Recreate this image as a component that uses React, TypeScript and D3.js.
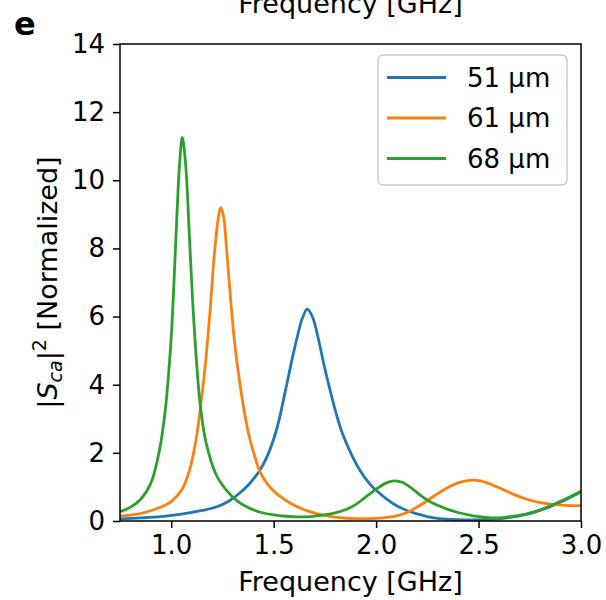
import React, { useRef, useEffect } from 'react';
import * as d3 from 'd3';

// values, [frequency GHz, |S_ca|^2 normalized]
const curve51: [number, number][] = [
    [0.75, 0.06], [0.85, 0.09], [0.95, 0.13], [1.05, 0.2], [1.15, 0.31], [1.22, 0.41],
    [1.28, 0.58], [1.33, 0.8], [1.38, 1.08], [1.43, 1.47], [1.47, 1.92], [1.515, 2.7],
    [1.56, 3.9], [1.59, 4.75], [1.615, 5.4], [1.64, 5.95], [1.664, 6.22], [1.69, 5.98],
    [1.718, 5.35], [1.745, 4.6], [1.775, 3.85], [1.81, 3.05], [1.84, 2.5], [1.88, 1.95],
    [1.92, 1.5], [1.97, 1.08], [2.0, 0.9], [2.05, 0.65], [2.1, 0.45], [2.15, 0.31],
    [2.2, 0.21], [2.25, 0.13], [2.3, 0.08], [2.4, 0.04], [2.5, 0.03], [2.56, 0.05],
    [2.62, 0.08], [2.68, 0.13], [2.74, 0.2], [2.8, 0.31], [2.86, 0.45], [2.92, 0.61],
    [3.0, 0.85],
];

const curve61: [number, number][] = [
    [0.75, 0.14], [0.8, 0.17], [0.85, 0.22], [0.9, 0.3], [0.95, 0.41], [1.0, 0.57],
    [1.05, 0.9], [1.09, 1.5], [1.12, 2.35], [1.14, 3.2], [1.165, 4.5], [1.19, 6.2],
    [1.21, 7.8], [1.23, 8.9], [1.241, 9.2], [1.255, 8.95], [1.27, 8.0], [1.29, 6.5],
    [1.31, 5.2], [1.336, 4.0], [1.36, 3.1], [1.384, 2.4], [1.41, 1.85], [1.433, 1.45],
    [1.47, 1.08], [1.5, 0.88], [1.55, 0.64], [1.6, 0.46], [1.65, 0.33], [1.7, 0.23],
    [1.76, 0.15], [1.82, 0.1], [1.9, 0.07], [1.97, 0.07], [2.03, 0.09], [2.1, 0.15],
    [2.15, 0.25], [2.2, 0.41], [2.25, 0.6], [2.3, 0.8], [2.35, 0.98], [2.4, 1.12],
    [2.44, 1.18], [2.47, 1.2], [2.51, 1.18], [2.56, 1.08], [2.62, 0.92], [2.68, 0.76],
    [2.74, 0.63], [2.8, 0.54], [2.86, 0.49], [2.92, 0.46], [3.0, 0.45],
];

const curve68: [number, number][] = [
    [0.75, 0.27], [0.8, 0.4], [0.85, 0.63], [0.9, 1.1], [0.94, 2.0], [0.97, 3.2],
    [1.0, 5.4], [1.02, 7.9], [1.04, 10.4], [1.054, 11.26], [1.07, 10.5], [1.09, 8.2],
    [1.11, 5.9], [1.14, 3.5], [1.17, 2.3], [1.22, 1.35], [1.27, 0.9], [1.32, 0.6],
    [1.38, 0.38], [1.44, 0.25], [1.5, 0.18], [1.56, 0.14], [1.62, 0.12], [1.68, 0.13],
    [1.74, 0.17], [1.8, 0.24], [1.85, 0.33], [1.9, 0.48], [1.95, 0.71], [2.0, 0.93],
    [2.05, 1.12], [2.09, 1.18], [2.13, 1.13], [2.18, 0.93], [2.22, 0.74], [2.26, 0.58],
    [2.3, 0.46], [2.35, 0.34], [2.4, 0.25], [2.45, 0.18], [2.5, 0.13], [2.56, 0.09],
    [2.62, 0.1], [2.68, 0.15], [2.74, 0.22], [2.8, 0.33], [2.86, 0.47], [2.92, 0.63],
    [3.0, 0.87],
];

const legendLabels = ['51 µm', '61 µm', '68 µm'];
const colors = ['#1f77b4', '#ff7f0e', '#2ca02c'];
const xTicks = [1.0, 1.5, 2.0, 2.5, 3.0];
const yTicks = [0, 2, 4, 6, 8, 10, 12, 14];

const FONT = '"DejaVu Sans", sans-serif';

function Chart() {
    const ref = useRef<SVGSVGElement | null>(null);

    useEffect(() => {
        const svg = d3.select(ref.current);
        svg.selectAll('*').remove();

        const margin = { left: 120, right: 25, top: 44, bottom: 79 };
        const width = 606;
        const height = 600;

        const x = d3.scaleLinear([0.75, 3.0], [margin.left, width - margin.right]);
        const y = d3.scaleLinear([0, 14], [height - margin.bottom, margin.top]);

        svg.append('clipPath')
            .attr('id', 'plot-clip')
            .append('rect')
            .attr('x', margin.left)
            .attr('y', margin.top)
            .attr('width', width - margin.left - margin.right)
            .attr('height', height - margin.top - margin.bottom);

        const line = d3
            .line<[number, number]>()
            .x((d) => x(d[0]))
            .y((d) => y(d[1]))
            .curve(d3.curveCatmullRom.alpha(0.5));

        const series = [curve51, curve61, curve68];
        svg.append('g')
            .attr('clip-path', 'url(#plot-clip)')
            .selectAll('path')
            .data(series)
            .join('path')
            .attr('fill', 'none')
            .attr('stroke', (_, i) => colors[i])
            .attr('stroke-width', 2.8)
            .attr('stroke-linejoin', 'round')
            .attr('d', (d) => line(d));

        // axes
        const xAxis = svg
            .append('g')
            .attr('transform', `translate(0,${height - margin.bottom})`)
            .call(
                d3.axisBottom(x).tickValues(xTicks).tickFormat(d3.format('.1f')).tickSize(7).tickPadding(8)
            );
        const yAxis = svg
            .append('g')
            .attr('transform', `translate(${margin.left},0)`)
            .call(d3.axisLeft(y).tickValues(yTicks).tickFormat(d3.format('d')).tickSize(7).tickPadding(8));

        for (const ax of [xAxis, yAxis]) {
            ax.select('.domain').remove();
            ax.selectAll('line').attr('stroke', '#000').attr('stroke-width', 1.5);
            ax.selectAll('text').attr('fill', '#000').style('font-family', FONT).style('font-size', '26px');
        }

        // frame
        svg.append('rect')
            .attr('x', margin.left)
            .attr('y', margin.top)
            .attr('width', width - margin.left - margin.right)
            .attr('height', height - margin.top - margin.bottom)
            .attr('fill', 'none')
            .attr('stroke', '#000')
            .attr('stroke-width', 1.5);

        // axis labels
        svg.append('text')
            .attr('x', (margin.left + width - margin.right) / 2)
            .attr('y', 591)
            .attr('text-anchor', 'middle')
            .style('font-family', FONT)
            .style('font-size', '27px')
            .text('Frequency [GHz]');

        // label of the panel above, cut off at the top as in the source figure
        svg.append('text')
            .attr('x', (margin.left + width - margin.right) / 2)
            .attr('y', 13)
            .attr('text-anchor', 'middle')
            .style('font-family', FONT)
            .style('font-size', '27px')
            .text('Frequency [GHz]');

        const yl = svg
            .append('text')
            .attr('transform', `translate(57,${(margin.top + height - margin.bottom) / 2}) rotate(-90)`)
            .attr('text-anchor', 'middle')
            .style('font-family', FONT)
            .style('font-size', '27px');
        yl.append('tspan').text('|');
        yl.append('tspan').style('font-style', 'italic').text('S');
        yl.append('tspan').style('font-style', 'italic').style('font-size', '19px').attr('dy', 5).text('ca');
        yl.append('tspan').attr('dy', -5).text('|');
        yl.append('tspan').style('font-size', '19px').attr('dy', -11).text('2');
        yl.append('tspan').attr('dy', 11).text(' [Normalized]');

        svg.append('text')
            .attr('x', 14)
            .attr('y', 35)
            .style('font-family', FONT)
            .style('font-size', '32px')
            .style('font-weight', 'bold')
            .text('e');

        // legend
        const lg = svg.append('g');
        lg.append('rect')
            .attr('x', 378)
            .attr('y', 55)
            .attr('width', 189)
            .attr('height', 130)
            .attr('rx', 5)
            .attr('fill', 'rgba(255,255,255,0.8)')
            .attr('stroke', '#cccccc')
            .attr('stroke-width', 1.5);
        const rows = lg
            .selectAll('g.row')
            .data(legendLabels)
            .join('g')
            .attr('class', 'row')
            .attr('transform', (_, i) => `translate(0,${77.5 + i * 40.5})`);
        rows.append('line')
            .attr('x1', 387)
            .attr('x2', 446)
            .attr('stroke', (_, i) => colors[i])
            .attr('stroke-width', 2.8);
        rows.append('text')
            .attr('x', 467)
            .attr('dy', '0.36em')
            .style('font-family', FONT)
            .style('font-size', '26px')
            .text((d) => d);
    }, []);

    return (
        <svg
            ref={ref}
            width={606}
            height={600}
            style={{ position: 'absolute', left: 0, top: 0, background: '#fff' }}
        />
    );
}

export default function App() {
    return <Chart />;
}
